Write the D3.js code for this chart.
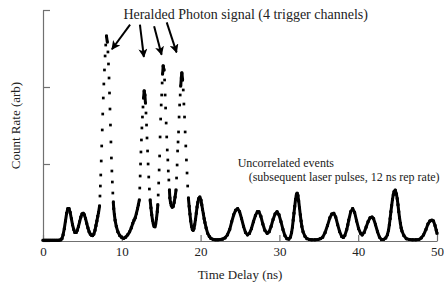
<!DOCTYPE html>
<html>
<head>
<meta charset="utf-8">
<script src="https://cdn.jsdelivr.net/npm/d3@7/dist/d3.min.js"></script>
<style>
  body { margin: 0; background: #fff; }
  svg text { font-family: "Liberation Serif", "Times New Roman", serif; fill: #222; }
</style>
</head>
<body>
<div id="chart"></div>
<script>

// time delay (ns) and count rate (arb)
var delay_ns = [
  0, 0.25, 0.5, 0.75, 1.0, 1.25, 1.5, 1.75, 2.0, 2.25,
  2.4, 2.55, 2.7, 2.85, 3.0, 3.15, 3.3, 3.45, 3.6, 3.75, 3.9, 4.05, 4.2, 4.35, 4.5, 4.65, 4.8, 4.95, 5.1, 5.25, 5.4, 5.55, 5.7, 5.85, 6.0, 6.15, 6.3, 6.45, 6.6, 6.72, 6.84, 6.95, 7.05,
  7.18, 7.23, 7.28, 7.33, 7.39, 7.45, 7.52, 7.58, 7.65, 7.72, 7.80, 7.88, 7.96, 8.05,
  8.16, 8.24, 8.31, 8.38, 8.44, 8.50, 8.56, 8.62, 8.68, 8.74, 8.80, 8.86, 8.92,
  8.98, 9.06, 9.15, 9.3, 9.5, 9.75, 10.0, 10.25, 10.5, 10.75, 11.0, 11.2, 11.4, 11.55, 11.7, 11.85, 12.0, 12.1,
  12.22, 12.28, 12.33, 12.38, 12.43, 12.49, 12.55, 12.62, 12.69, 12.76, 12.84,
  12.93, 13.0, 13.07, 13.14, 13.2, 13.27, 13.34, 13.42, 13.5, 13.6,
  13.7, 13.8, 13.9, 14.0, 14.1, 14.2, 14.3, 14.4, 14.5, 14.57,
  14.62, 14.68, 14.74, 14.8, 14.86, 14.93, 15.0, 15.06, 15.12, 15.18, 15.25,
  15.36, 15.43, 15.5, 15.56, 15.63, 15.7, 15.77, 15.84, 15.9, 15.97, 16.04, 16.1,
  16.18, 16.28, 16.4, 16.52, 16.64, 16.76,
  16.88, 16.95, 17.02, 17.08, 17.14, 17.2, 17.27, 17.34, 17.41, 17.48, 17.55, 17.62,
  17.72, 17.8, 17.88, 17.96, 18.04, 18.12, 18.2, 18.28, 18.36, 18.45,
  18.55, 18.65, 18.75, 18.85, 18.95, 19.05, 19.15, 19.25, 19.35, 19.45, 19.55, 19.65, 19.75, 19.9, 20.05, 20.15, 20.25, 20.35, 20.45, 20.55, 20.7, 20.9, 21.1, 21.3, 21.6, 21.9, 22.2,
  22.5, 22.8, 23.1, 23.4, 23.7, 23.95, 24.2, 24.45, 24.7, 24.95, 25.2, 25.45, 25.7, 25.95, 26.2, 26.45, 26.7, 26.95, 27.2, 27.4, 27.65, 27.9, 28.15, 28.45,
  28.7, 28.95, 29.2, 29.45, 29.7, 29.95, 30.2, 30.45, 30.7, 30.95, 31.2, 31.4, 31.55, 31.65, 31.75, 31.85, 31.95, 32.05, 32.15, 32.25, 32.35, 32.45, 32.55, 32.65, 32.75, 32.85, 33.0, 33.25, 33.5,
  33.8, 34.1, 34.5, 34.9, 35.2, 35.5, 35.8, 36.1, 36.4, 36.65, 36.9, 37.15, 37.4, 37.65, 37.9, 38.1, 38.3, 38.55, 38.68, 38.8, 39.05, 39.3, 39.55, 39.8, 40.05,
  40.3, 40.5, 40.75, 41.0, 41.25, 41.5, 41.75, 41.95, 42.2, 42.45, 42.7, 42.95, 43.2, 43.5, 43.7, 43.85, 43.95, 44.05, 44.15, 44.25, 44.35, 44.45, 44.55, 44.7, 44.85, 44.95, 45.05, 45.15, 45.25,
  45.35, 45.45, 45.55, 45.8, 46.1, 46.5, 46.9, 47.3, 47.7, 48.0, 48.3, 48.6, 48.85, 49.1, 49.35, 49.55, 49.75, 49.9, 50.0
];

var count_rate = [
  0.01, 0.01, 0.01, 0.01, 0.01, 0.01, 0.01, 0.01, 0.01, 0.015,
  0.03, 0.08, 0.16, 0.26, 0.36, 0.42, 0.42, 0.37, 0.29, 0.21, 0.15, 0.11, 0.11, 0.14, 0.19, 0.25, 0.31, 0.35, 0.36, 0.34, 0.29, 0.23, 0.17, 0.12, 0.09, 0.075, 0.07, 0.09, 0.14, 0.2, 0.26, 0.32, 0.37,
  0.455, 0.584, 0.714, 0.857, 1.039, 1.234, 1.442, 1.649, 1.857, 2.039, 2.221, 2.403, 2.545, 2.662,
  2.584, 2.455, 2.299, 2.117, 1.922, 1.714, 1.506, 1.286, 1.078, 0.909, 0.766, 0.623, 0.506,
  0.42, 0.34, 0.27, 0.19, 0.12, 0.07, 0.045, 0.035, 0.05, 0.08, 0.12, 0.17, 0.23, 0.27, 0.30, 0.36, 0.42, 0.47,
  0.532, 0.688, 0.844, 1.0, 1.156, 1.312, 1.468, 1.610, 1.740, 1.857, 1.948,
  1.896, 1.792, 1.662, 1.506, 1.338, 1.169, 1.0, 0.831, 0.675, 0.532,
  0.43, 0.34, 0.27, 0.22, 0.19, 0.185, 0.22, 0.29, 0.38, 0.47,
  0.597, 0.753, 0.922, 1.104, 1.351, 1.584, 1.766, 1.896, 2.052, 2.169, 2.273,
  2.221, 2.091, 1.896, 1.727, 1.532, 1.351, 1.182, 1.052, 0.909, 0.792, 0.662, 0.56,
  0.50, 0.46, 0.44, 0.45, 0.50, 0.57,
  0.662, 0.818, 0.987, 1.169, 1.286, 1.416, 1.610, 1.766, 1.896, 2.013, 2.117, 2.182,
  2.091, 1.961, 1.779, 1.610, 1.416, 1.234, 1.052, 0.883, 0.714, 0.558,
  0.45, 0.35, 0.26, 0.19, 0.15, 0.14, 0.16, 0.21, 0.28, 0.36, 0.44, 0.50, 0.55, 0.57, 0.53, 0.47, 0.41, 0.35, 0.29, 0.24, 0.17, 0.10, 0.06, 0.035, 0.02, 0.015, 0.015,
  0.02, 0.025, 0.04, 0.08, 0.15, 0.25, 0.34, 0.40, 0.42, 0.38, 0.29, 0.19, 0.11, 0.08, 0.10, 0.16, 0.25, 0.33, 0.38, 0.38, 0.32, 0.22, 0.14, 0.10,
  0.12, 0.19, 0.28, 0.35, 0.38, 0.34, 0.25, 0.15, 0.07, 0.03, 0.025, 0.05, 0.11, 0.18, 0.27, 0.36, 0.45, 0.54, 0.60, 0.62, 0.59, 0.52, 0.43, 0.34, 0.26, 0.19, 0.12, 0.06, 0.03,
  0.02, 0.015, 0.015, 0.02, 0.03, 0.05, 0.11, 0.20, 0.30, 0.35, 0.36, 0.31, 0.21, 0.12, 0.06, 0.045, 0.07, 0.15, 0.21, 0.27, 0.38, 0.42, 0.37, 0.26, 0.16,
  0.10, 0.08, 0.11, 0.18, 0.25, 0.30, 0.31, 0.29, 0.21, 0.12, 0.05, 0.02, 0.02, 0.04, 0.08, 0.14, 0.21, 0.29, 0.38, 0.46, 0.54, 0.60, 0.64, 0.66, 0.61, 0.55, 0.47, 0.38, 0.30,
  0.23, 0.17, 0.13, 0.07, 0.03, 0.02, 0.015, 0.015, 0.02, 0.04, 0.08, 0.15, 0.22, 0.26, 0.27, 0.26, 0.20, 0.14, 0.10
];

var x_ticks = [0, 10, 20, 30, 40, 50];
var y_ticks = [0, 1, 2, 3];

// annotation arrows, [from delay, from rate, to delay, to rate]
var arrows = [
  [11.05, 2.81, 8.75, 2.49],
  [12.3, 2.81, 12.8, 2.39],
  [14.1, 2.79, 15.05, 2.42],
  [15.7, 2.84, 16.95, 2.45]
];

var width = 444, height = 287;
var axis_color = '#707070';

var svg = d3.select('#chart').append('svg')
  .attr('width', width)
  .attr('height', height);

var x = d3.scaleLinear().domain([0, 50]).range([43, 437]);
var y = d3.scaleLinear().domain([0, 3]).range([241, 10]);

var points = delay_ns.map(function(t, i){ return {t: t, v: count_rate[i]}; });

// x axis, ticks pointing in
var xAxis = svg.append('g')
  .attr('transform', 'translate(0,' + y(0) + ')')
  .call(d3.axisBottom(x).tickValues(x_ticks).tickSizeInner(-6).tickSizeOuter(0).tickPadding(6));
xAxis.select('.domain').attr('stroke', axis_color).attr('stroke-width', 1.2);
xAxis.selectAll('.tick line').attr('stroke', axis_color).attr('stroke-width', 1.2);
xAxis.selectAll('.tick text')
  .style('font-family', '"Liberation Serif", serif')
  .style('font-size', '13px')
  .attr('fill', '#222');

// y axis, no labels
var yAxis = svg.append('g')
  .attr('transform', 'translate(' + x(0) + ',0)')
  .call(d3.axisLeft(y).tickValues(y_ticks).tickSizeInner(-7).tickSizeOuter(0).tickFormat(''));
yAxis.select('.domain').attr('stroke', axis_color).attr('stroke-width', 1.2);
yAxis.selectAll('.tick line').attr('stroke', axis_color).attr('stroke-width', 1.2);

// trace: neighbouring samples that sit close together merge into a solid line
var segs = d3.pairs(points).filter(function(p){
  var dx = x(p[1].t) - x(p[0].t), dy = y(p[1].v) - y(p[0].v);
  return Math.sqrt(dx*dx + dy*dy) < 9;
});

svg.append('g').selectAll('line')
  .data(segs)
  .enter()
  .append('line')
  .attr('x1', function(d){ return x(d[0].t); })
  .attr('y1', function(d){ return y(d[0].v); })
  .attr('x2', function(d){ return x(d[1].t); })
  .attr('y2', function(d){ return y(d[1].v); })
  .attr('stroke', '#000')
  .attr('stroke-width', 3)
  .attr('stroke-linecap', 'round');

var ds = 2.7;
svg.append('g').selectAll('rect')
  .data(points)
  .enter()
  .append('rect')
  .attr('x', function(d){ return x(d.t) - ds/2; })
  .attr('y', function(d){ return y(d.v) - ds/2; })
  .attr('width', ds)
  .attr('height', ds)
  .attr('fill', '#000');

// arrow heads
svg.append('defs').append('marker')
  .attr('id', 'head')
  .attr('viewBox', '0 0 10 10')
  .attr('refX', 9)
  .attr('refY', 5)
  .attr('markerUnits', 'userSpaceOnUse')
  .attr('markerWidth', 9)
  .attr('markerHeight', 9)
  .attr('orient', 'auto')
  .append('path')
  .attr('d', 'M0,0 L10,5 L0,10 L2.5,5 z')
  .attr('fill', '#000');

svg.append('g').selectAll('line')
  .data(arrows)
  .enter()
  .append('line')
  .attr('x1', function(d){ return x(d[0]); })
  .attr('y1', function(d){ return y(d[1]); })
  .attr('x2', function(d){ return x(d[2]); })
  .attr('y2', function(d){ return y(d[3]); })
  .attr('stroke', '#000')
  .attr('stroke-width', 2)
  .attr('marker-end', 'url(#head)');

// texts
svg.append('text')
  .attr('x', x(10.2))
  .attr('y', 19)
  .style('font-size', '14px')
  .text('Heralded Photon signal (4 trigger channels)');

svg.append('text')
  .attr('x', x(24.7))
  .attr('y', 167)
  .style('font-size', '12px')
  .text('Uncorrelated events');

svg.append('text')
  .attr('x', x(26.1))
  .attr('y', 181)
  .style('font-size', '12px')
  .text('(subsequent laser pulses, 12 ns rep rate)');

svg.append('text')
  .attr('x', x(25))
  .attr('y', 279)
  .attr('text-anchor', 'middle')
  .style('font-size', '13px')
  .text('Time Delay (ns)');

svg.append('text')
  .attr('transform', 'translate(20,' + y(1.5) + ') rotate(-90)')
  .attr('text-anchor', 'middle')
  .style('font-size', '13px')
  .text('Count Rate (arb)');

</script>
</body>
</html>
